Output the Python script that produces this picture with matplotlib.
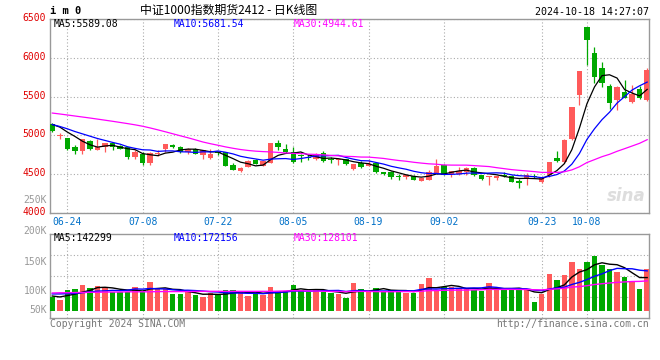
import numpy as np
import pandas as pd
import matplotlib
matplotlib.use("Agg")
import matplotlib.pyplot as plt
from matplotlib.transforms import ScaledTranslation

# ---------------- data ----------------
opens = [5149, 4993, 4962, 4846, 4800, 4932, 4816, 4855, 4898, 4863,
         4846, 4722, 4765, 4646, 4765, 4821, 4876, 4846, 4782, 4825,
         4747, 4711, 4775, 4780, 4616, 4535, 4595, 4685, 4608, 4642,
         4905, 4823, 4785, 4745, 4715, 4690, 4767, 4700, 4677, 4694,
         4563, 4646, 4603, 4646, 4526, 4526, 4478, 4466, 4474, 4414,
         4431, 4517, 4616, 4509, 4509, 4530, 4586, 4487, 4466, 4453,
         4491, 4483, 4408, 4434, 4477, 4404, 4486, 4713, 4653, 4953,
         5520, 6399, 6060, 5867, 5640, 5455, 5562, 5434, 5597, 5455]
highs = [5166, 5030, 4970, 4872, 4957, 4940, 4949, 4902, 4902, 4872,
         4850, 4808, 4782, 4791, 4808, 4885, 4889, 4859, 4838, 4838,
         4815, 4819, 4790, 4789, 4642, 4595, 4677, 4694, 4672, 4905,
         4940, 4888, 4845, 4765, 4755, 4767, 4793, 4716, 4700, 4700,
         4636, 4668, 4680, 4650, 4530, 4543, 4509, 4509, 4487, 4453,
         4552, 4698, 4629, 4539, 4595, 4595, 4595, 4491, 4478, 4478,
         4534, 4487, 4434, 4511, 4498, 4460, 4657, 4799, 4953, 5365,
         5833, 6399, 6133, 5940, 5657, 5635, 5708, 5644, 5635, 5871]
lows = [5043, 4953, 4808, 4757, 4765, 4815, 4812, 4787, 4816, 4820,
        4693, 4690, 4625, 4625, 4731, 4782, 4838, 4778, 4765, 4757,
        4695, 4690, 4750, 4608, 4550, 4530, 4590, 4628, 4603, 4638,
        4810, 4776, 4638, 4660, 4685, 4681, 4660, 4650, 4617, 4625,
        4558, 4586, 4600, 4510, 4495, 4440, 4431, 4444, 4423, 4410,
        4423, 4517, 4491, 4466, 4491, 4496, 4474, 4431, 4362, 4423,
        4466, 4397, 4327, 4366, 4456, 4383, 4468, 4661, 4640, 4940,
        5391, 5906, 5678, 5627, 5335, 5326, 5476, 5421, 5468, 5442]
closes = [5055, 4998, 4825, 4800, 4949, 4825, 4846, 4898, 4846, 4829,
          4722, 4786, 4646, 4770, 4770, 4885, 4850, 4786, 4825, 4765,
          4807, 4763, 4770, 4612, 4552, 4578, 4664, 4630, 4664, 4905,
          4853, 4785, 4655, 4735, 4710, 4746, 4672, 4677, 4694, 4630,
          4632, 4595, 4629, 4526, 4500, 4466, 4470, 4496, 4431, 4448,
          4526, 4612, 4496, 4539, 4539, 4577, 4491, 4440, 4478, 4478,
          4474, 4405, 4387, 4490, 4460, 4447, 4657, 4674, 4940, 5365,
          5833, 6227, 5755, 5670, 5421, 5622, 5485, 5532, 5485, 5841]
volumes_k = [61, 47, 90, 94, 111, 98, 107, 97, 80, 83,
             81, 103, 80, 124, 94, 93, 73, 73, 83, 68,
             61, 75, 67, 90, 90, 85, 64, 73, 67, 103,
             85, 85, 111, 90, 83, 90, 83, 76, 73, 57,
             121, 94, 80, 98, 85, 88, 88, 78, 75, 117,
             142, 85, 101, 101, 97, 94, 91, 85, 121, 93,
             90, 90, 94, 94, 40, 73, 158, 132, 154, 209,
             179, 209, 236, 197, 179, 168, 145, 128, 94, 179]

# moving-average values at the first candles (window not yet full)
ma5_head = [5141, 5107, 5043, 4987]
ma10_head = [5140, 5115, 5085, 5050, 5020, 4990, 4960, 4935, 4910]
ma30_head = [5288, 5276, 5263, 5250, 5237, 5224, 5210, 5196, 5182, 5167,
             5152, 5136, 5118, 5096, 5072, 5047, 5021, 4995, 4970, 4943,
             4915, 4893, 4873, 4852, 4834, 4818, 4806, 4797, 4791]
vma5_head = [64, 60, 66, 72]
vma10_head = [73, 73, 74, 75, 78, 82, 85, 86, 88]
vma30_head = [77, 78, 78, 79, 79, 80, 80, 81, 81, 81,
              82, 82, 82, 82, 83, 83, 83, 83, 83, 84,
              84, 84, 84, 84, 84, 84, 84, 84, 84]

date_idx = [2, 12, 22, 32, 42, 52, 65, 71]
date_labels = ["06-24", "07-08", "07-22", "08-05", "08-19", "09-02", "09-23", "10-08"]
price_ticks = [4000, 4500, 5000, 5500, 6000, 6500]
vol_tick_labels = ["250K", "200K", "150K", "100K", "50K"]
ma_price_labels = ["MA5:5589.08", "MA10:5681.54", "MA30:4944.61"]
ma_vol_labels = ["MA5:142299", "MA10:172156", "MA30:128101"]
title_text = "中证1000指数期货2412 - 日K线图"
symbol_text = "i m 0"
stamp_text = "2024-10-18 14:27:07"

# ---------------- style ----------------
RED = "#FF5A5A"
GREEN = "#00A800"
BLUE = "#0000FF"
MAG = "#FF00FF"
GRID = "#AAAAAA"
FRAME = "#999999"
MONO = "DejaVu Sans Mono"
CJK = ["Noto Sans CJK SC", "DejaVu Sans"]

W, H = 660, 360
fig = plt.figure(figsize=(W / 100, H / 100), dpi=100)
fig.patch.set_facecolor("white")


def fx(x):
    return x / W


def fy(y):
    return 1 - y / H


ax = fig.add_axes([fx(50), fy(213), fx(649) - fx(50), fy(19) - fy(213)])
ax2 = fig.add_axes([fx(50), fy(318), fx(649) - fx(50), fy(234) - fy(318)])

n = len(closes)
x = np.arange(n)
X0, DX = 52.3, 7.53  # pixel of first candle, pixel spacing
xlim = ((50 - X0) / DX, (649 - X0) / DX)
bw = 0.72


def moving(vals, k, head):
    m = pd.Series(vals, dtype=float).rolling(k).mean().to_numpy()
    m[:k - 1] = head
    return m


o = np.array(opens, float)
c = np.array(closes, float)
hi = np.array(highs, float)
lo = np.array(lows, float)
up = c >= o
cols = np.where(up, RED, GREEN)

# ---------------- price panel ----------------
ax.set_xlim(*xlim)
ax.set_ylim(4000, 6500)
for i in range(n):
    ax.vlines(x[i], lo[i], hi[i], color=cols[i], lw=0.9, zorder=3)
body_h = np.maximum(np.abs(c - o), 10)
ax.bar(x, body_h, bottom=np.minimum(o, c), width=bw, color=cols, linewidth=0, zorder=3)

ax.plot(x, moving(closes, 5, ma5_head), color="black", lw=0.9, zorder=4)
ax.plot(x, moving(closes, 10, ma10_head), color=BLUE, lw=0.9, zorder=4)
ax.plot(x, moving(closes, 30, ma30_head), color=MAG, lw=0.9, zorder=4)

ax.set_yticks(price_ticks)
ax.set_yticklabels([str(t) for t in price_ticks], family=MONO, fontsize=7, color="#E00000")
ax.set_xticks(date_idx)
ax.set_xticklabels(date_labels, family=MONO, fontsize=7, color="#0070C8")
ax.tick_params(axis="both", length=0)
ax.tick_params(axis="y", pad=3)
ax.tick_params(axis="x", pad=3)
off = ScaledTranslation(0, 2 / 100, fig.dpi_scale_trans)
for lab in ax.get_yticklabels():
    lab.set_transform(lab.get_transform() + off)
ax.grid(True, color=GRID, lw=0.8, linestyle=(0, (1, 2)), zorder=0)
for s in ax.spines.values():
    s.set_color(FRAME)
    s.set_linewidth(1)

# watermark
ax.text(0.995, 0.04, "sina", transform=ax.transAxes, ha="right", va="bottom",
        fontsize=12, style="italic", weight="bold", color="#DDDDDD", family="DejaVu Sans", zorder=1)

# ---------------- volume panel ----------------
v = np.array(volumes_k, float)
ax2.set_xlim(*xlim)
ax2.set_ylim(-29.9, 329)
ax2.bar(x, v, width=bw, color=cols, linewidth=0, zorder=3)
ax2.plot(x, moving(volumes_k, 5, vma5_head), color="black", lw=1.0, zorder=4)
ax2.plot(x, moving(volumes_k, 10, vma10_head), color=BLUE, lw=1.0, zorder=4)
ax2.plot(x, moving(volumes_k, 30, vma30_head), color=MAG, lw=1.0, zorder=4)
ax2.set_xticks(date_idx)
ax2.set_xticklabels([])
ax2.set_yticks([])
ax2.tick_params(length=0)
ax2.grid(True, axis="x", color=GRID, lw=0.8, linestyle=(0, (1, 2)), zorder=0)
for f in (0.25, 0.5, 0.75):
    ax2.plot([0, 1], [f, f], transform=ax2.transAxes, color=GRID, lw=0.8,
             linestyle=(0, (1, 2)), zorder=0)
for s in ax2.spines.values():
    s.set_color(FRAME)
    s.set_linewidth(1)

vol_label_y = [200, 231, 262, 291, 310]
for lab, yy in zip(vol_tick_labels, vol_label_y):
    fig.text(fx(47), fy(yy), lab, ha="right", va="center", family=MONO, fontsize=7, color="#999999")

# ---------------- texts ----------------
fig.text(fx(50), fy(11), symbol_text, ha="left", va="center", family=MONO, fontsize=7.5,
         weight="bold", color="black")
fig.text(fx(140), fy(10), title_text, ha="left", va="center", family=CJK, fontsize=8.6, color="black")
fig.text(fx(649), fy(12), stamp_text, ha="right", va="center", family=MONO, fontsize=7.2, color="black")

ma_cols = ["black", BLUE, MAG]
ma_x = [54, 174, 294]
for lab, col, xx in zip(ma_price_labels, ma_cols, ma_x):
    fig.text(fx(xx), fy(24), lab, ha="left", va="center", family=MONO, fontsize=7, color=col)
for lab, col, xx in zip(ma_vol_labels, ma_cols, ma_x):
    fig.text(fx(xx), fy(238), lab, ha="left", va="center", family=MONO, fontsize=7, color=col)

fig.text(fx(50), fy(324), "Copyright 2024 SINA.COM", ha="left", va="center", family=MONO,
         fontsize=7, color="#777777")
fig.text(fx(649), fy(324), "http://finance.sina.com.cn", ha="right", va="center", family=MONO,
         fontsize=7, color="#777777")

fig.savefig("out.png", dpi=100, facecolor="white")
